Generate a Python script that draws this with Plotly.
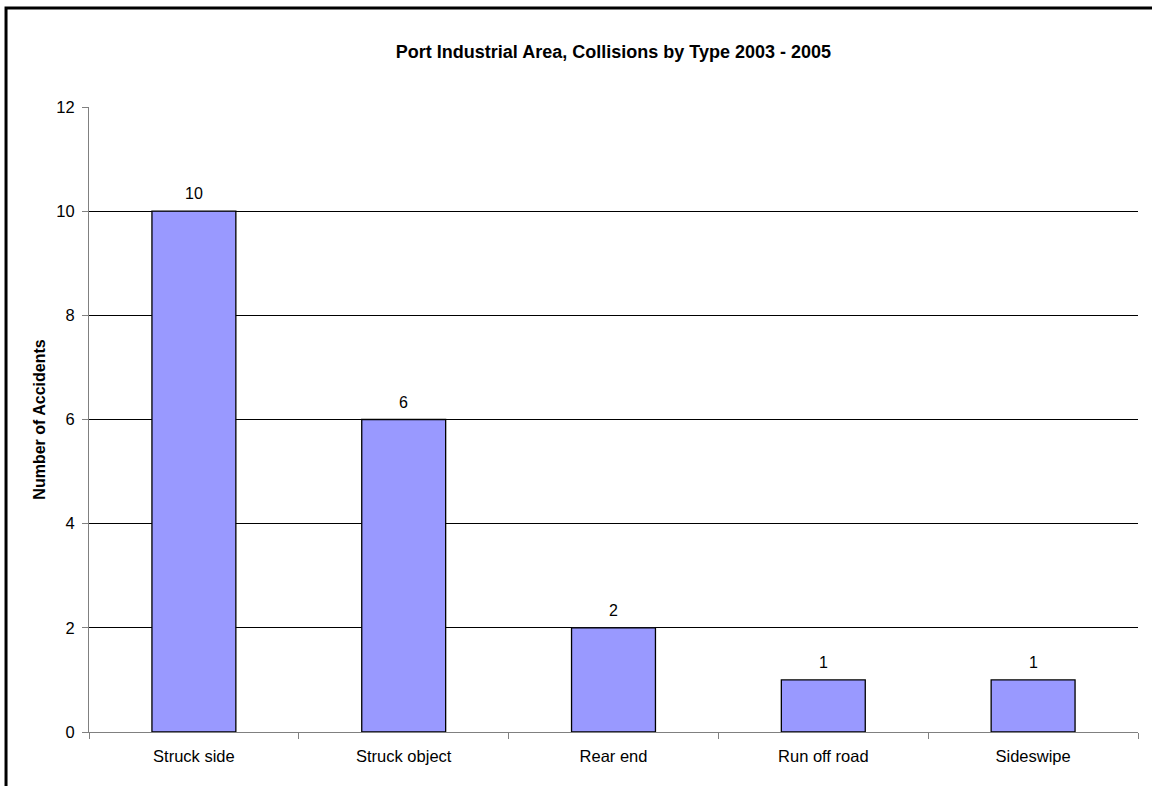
import plotly.graph_objects as go

categories = ["Struck side", "Struck object", "Rear end", "Run off road", "Sideswipe"]
values = [10, 6, 2, 1, 1]
y_ticks = [0, 2, 4, 6, 8, 10, 12]
grid_ticks = [2, 4, 6, 8, 10]

FONT = "Liberation Sans, Arial, sans-serif"

fig = go.Figure()
fig.add_trace(go.Bar(
    x=categories, y=values,
    marker=dict(color="#9999FF", line=dict(color="black", width=1.3)),
    width=0.4,
    showlegend=False,
))
# invisible trace to anchor grid axis
fig.add_trace(go.Scatter(x=[categories[0]], y=[0], yaxis="y2", mode="markers",
                         marker=dict(opacity=0), showlegend=False, hoverinfo="skip"))

for c, v in zip(categories, values):
    fig.add_annotation(x=c, y=v, text=str(v), showarrow=False, yanchor="bottom",
                       yshift=7, font=dict(family=FONT, size=16, color="black"))

fig.update_layout(
    width=1152, height=786,
    margin=dict(l=89, r=14, t=107, b=54),
    paper_bgcolor="white", plot_bgcolor="white",
    font=dict(family=FONT, size=16, color="black"),
    title=dict(text="<b>Port Industrial Area, Collisions by Type 2003 - 2005</b>",
               x=0.5325, xanchor="center", y=0.934, yanchor="middle",
               font=dict(family=FONT, size=18, color="black")),
    xaxis=dict(type="category", showline=True, linecolor="#808080", linewidth=1,
               ticks="outside", ticklen=6, tickcolor="#808080", tickson="boundaries",
               showgrid=False, tickfont=dict(size=16.5), ticklabelstandoff=9),
    yaxis=dict(range=[0, 12], tickvals=y_ticks, showline=True, linecolor="#808080",
               linewidth=1, ticks="outside", ticklen=6, tickcolor="#808080",
               showgrid=False, zeroline=False, tickfont=dict(size=16.5),
               ticklabelstandoff=4,
               title=dict(text="<b>Number of Accidents</b>", standoff=6,
                          font=dict(size=16))),
    yaxis2=dict(range=[0, 12], overlaying="y", tickvals=grid_ticks, showticklabels=False,
                showgrid=True, gridcolor="black", gridwidth=1, zeroline=False,
                showline=False, ticks=""),
    bargap=0.6,
    shapes=[dict(type="rect", xref="paper", yref="paper",
                 x0=-0.0791, x1=1.05, y0=-0.2, y1=1.1584,
                 line=dict(color="black", width=3), layer="below")],
)

fig.write_html("out.html")
